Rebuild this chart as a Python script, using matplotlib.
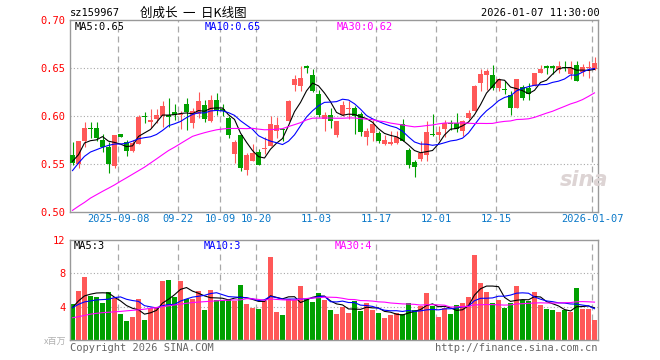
import matplotlib
matplotlib.use('Agg')
import matplotlib.pyplot as plt
import numpy as np
import pandas as pd

plt.rcParams['font.family'] = ['DejaVu Sans Mono', 'Noto Sans CJK SC']
plt.rcParams['lines.scale_dashes'] = False

# daily candles, 2025-08-27 .. 2026-01-07
opens = [0.559, 0.550, 0.574, 0.5872, 0.587, 0.575, 0.568, 0.5476, 0.581, 0.573,
         0.564, 0.571, 0.5992, 0.594, 0.597, 0.600, 0.601, 0.604, 0.601, 0.6125,
         0.593, 0.602, 0.611, 0.595, 0.617, 0.607, 0.598, 0.560, 0.5806, 0.544,
         0.5535, 0.5625, 0.5655, 0.5684, 0.5847, 0.5862, 0.5944, 0.6326, 0.631, 0.6509,
         0.6424, 0.6229, 0.597, 0.6014, 0.5806, 0.6007, 0.6073, 0.6083, 0.602, 0.5778,
         0.5823, 0.5823, 0.5708, 0.5708, 0.5719, 0.5917, 0.5649, 0.5521, 0.5556, 0.559,
         0.5808, 0.5806, 0.5868, 0.5927, 0.5927, 0.5847, 0.5979, 0.6056, 0.6344, 0.6431,
         0.6431, 0.6292, 0.6276, 0.6222, 0.6083, 0.6299, 0.6292, 0.6309, 0.6448, 0.6509,
         0.6509, 0.6483, 0.6502, 0.6438, 0.6528, 0.6458, 0.6497, 0.6493]
highs = [0.573, 0.574, 0.594, 0.594, 0.594, 0.581, 0.573, 0.5806, 0.581, 0.575,
         0.575, 0.601, 0.604, 0.607, 0.607, 0.616, 0.619, 0.6125, 0.605, 0.619,
         0.608, 0.625, 0.617, 0.622, 0.624, 0.6125, 0.5997, 0.5753, 0.5806, 0.5615,
         0.571, 0.566, 0.578, 0.5997, 0.5986, 0.587, 0.617, 0.6424, 0.6517, 0.6535,
         0.649, 0.6274, 0.604, 0.608, 0.5951, 0.6153, 0.6153, 0.610, 0.604, 0.588,
         0.596, 0.5847, 0.5806, 0.584, 0.5847, 0.5972, 0.5667, 0.5545, 0.5743, 0.5944,
         0.602, 0.5892, 0.596, 0.596, 0.6031, 0.596, 0.6066, 0.632, 0.6493, 0.6493,
         0.6535, 0.6396, 0.636, 0.6264, 0.6389, 0.632, 0.6344, 0.6448, 0.6535, 0.6528,
         0.6528, 0.6576, 0.6576, 0.657, 0.657, 0.6542, 0.657, 0.6611]
lows = [0.549, 0.546, 0.568, 0.577, 0.574, 0.563, 0.541, 0.546, 0.578, 0.558,
        0.562, 0.571, 0.593, 0.587, 0.593, 0.589, 0.589, 0.596, 0.586, 0.585,
        0.588, 0.598, 0.594, 0.594, 0.601, 0.600, 0.577, 0.551, 0.5424, 0.539,
        0.553, 0.549, 0.560, 0.5684, 0.577, 0.574, 0.5944, 0.6257, 0.6264, 0.6448,
        0.625, 0.5986, 0.5847, 0.588, 0.5778, 0.600, 0.5972, 0.5813, 0.5788, 0.5694,
        0.5743, 0.5719, 0.5694, 0.5694, 0.5708, 0.5736, 0.5458, 0.5361, 0.5535, 0.5528,
        0.5788, 0.5753, 0.5778, 0.5858, 0.5833, 0.5788, 0.5972, 0.6049, 0.6264, 0.6274,
        0.6274, 0.626, 0.6229, 0.6014, 0.608, 0.617, 0.617, 0.6309, 0.6448, 0.6438,
        0.6438, 0.6448, 0.6465, 0.6389, 0.636, 0.6413, 0.6396, 0.6483]
closes = [0.551, 0.574, 0.587, 0.5868, 0.577, 0.568, 0.550, 0.5806, 0.578, 0.564,
          0.572, 0.599, 0.5988, 0.596, 0.601, 0.610, 0.599, 0.601, 0.602, 0.604,
          0.6055, 0.616, 0.597, 0.617, 0.6066, 0.605, 0.5806, 0.573, 0.5458, 0.559,
          0.5615, 0.549, 0.5659, 0.5917, 0.5903, 0.5858, 0.616, 0.639, 0.6396, 0.6505,
          0.6264, 0.6014, 0.6014, 0.5944, 0.5951, 0.6111, 0.6077, 0.5997, 0.5833, 0.5847,
          0.5917, 0.5743, 0.5753, 0.5729, 0.5778, 0.5743, 0.5486, 0.5465, 0.5615, 0.5833,
          0.5804, 0.5833, 0.5927, 0.5917, 0.5868, 0.5944, 0.6031, 0.6309, 0.6438, 0.6472,
          0.6292, 0.6389, 0.6272, 0.6083, 0.6389, 0.6188, 0.6229, 0.6448, 0.6493, 0.6505,
          0.6505, 0.6517, 0.6498, 0.65, 0.6368, 0.6507, 0.6501, 0.6552]
# volume in millions
volumes = [4.28, 5.90, 7.60, 5.29, 5.13, 4.40, 5.78, 5.09, 3.07, 2.34,
           2.75, 4.89, 2.46, 3.88, 3.80, 7.11, 7.19, 5.17, 7.11, 4.89,
           4.97, 5.90, 3.60, 6.02, 4.77, 4.77, 4.89, 4.69, 6.63, 4.32,
           3.84, 3.68, 4.69, 10.02, 3.35, 2.95, 4.89, 4.77, 6.50, 4.89,
           4.57, 5.62, 4.77, 3.60, 3.11, 3.96, 3.19, 4.69, 3.43, 4.40,
           3.56, 3.19, 2.59, 2.95, 3.19, 3.07, 4.40, 3.56, 4.04, 5.62,
           4.04, 2.71, 3.80, 3.07, 4.16, 4.40, 5.13, 10.22, 6.83, 5.78,
           4.40, 4.77, 3.80, 4.40, 6.46, 4.81, 4.65, 5.74, 4.16, 3.68,
           3.56, 3.31, 3.56, 3.31, 6.22, 3.68, 3.68, 2.38]

# moving averages of the first bars reach back before the window
ma5_head = [0.5528, 0.5597, 0.5719, 0.5743]
ma10_head = [0.5431, 0.551, 0.558, 0.5625, 0.5649, 0.5674, 0.5694, 0.5708, 0.5708]
ma30_head = [0.5017, 0.506, 0.510, 0.5145, 0.518, 0.5215, 0.5248, 0.5282, 0.532, 0.5356,
             0.5393, 0.543, 0.5467, 0.551, 0.5553, 0.5597, 0.564, 0.5675, 0.5713, 0.5751,
             0.5788, 0.5808, 0.5826, 0.5842, 0.5856, 0.5865, 0.587, 0.587, 0.587]
vol_ma5_head = [3.88, 4.69, 5.29, 5.5]
vol_ma10_head = [3.88, 4.28, 4.57, 4.69, 4.81, 4.85, 4.89, 5.09, 5.17]
vol_ma30_head = [2.67, 2.8, 2.95, 3.1, 3.2, 3.28, 3.33, 3.38, 3.43, 3.5,
                 3.56, 3.62, 3.7, 3.8, 3.9, 4.0, 4.1, 4.2, 4.3, 4.4,
                 4.5, 4.55, 4.6, 4.65, 4.7, 4.75, 4.78, 4.8, 4.82]

date_ticks = [8, 18, 25, 31, 41, 51, 61, 71, 87]
date_labels = ['2025-09-08', '09-22', '10-09', '10-20', '11-03', '11-17',
               '12-01', '12-15', '2026-01-07']

RED = '#ff5858'
GREEN = '#00a000'
GRID = '#a8a8a8'
W, H = 660, 360


def moving_avg(values, n, head):
    s = pd.Series(values).rolling(n).mean()
    s.iloc[:len(head)] = head
    return s.values


def px(x, y):
    return x / W, 1 - y / H


o = np.array(opens)
c = np.array(closes)
x = np.arange(len(closes))
colors = np.where(c >= o, RED, GREEN)

fig = plt.figure(figsize=(6.6, 3.6), dpi=100)
left, right = 69.5 / W, 598 / W
ax = fig.add_axes([left, 1 - 212 / H, right - left, 192 / H])
axv = fig.add_axes([left, 1 - 340 / H, right - left, 100 / H])

for a in (ax, axv):
    a.set_xlim(-0.5, 87.58)
    for s in a.spines.values():
        s.set_color('#999999')
        s.set_linewidth(1.0)
    a.tick_params(length=0, colors='red', labelsize=7.5, pad=3)
    a.set_xticks([])
    for t in date_ticks:
        a.axvline(t - 2.5 / 6, color=GRID, lw=0.9, ls=(0, (4.3, 2.9)), zorder=0)

# price panel
ax.set_ylim(0.50, 0.70)
ax.set_yticks([0.50, 0.55, 0.60, 0.65, 0.70])
ax.set_yticklabels(['0.50', '0.55', '0.60', '0.65', '0.70'])
for v in [0.55, 0.60, 0.65]:
    ax.axhline(v, color=GRID, lw=0.8, ls=(0, (0.8, 1.6)), zorder=0)

ax.vlines(x, lows, highs, colors=colors, lw=0.8, zorder=2)
body = np.maximum(np.abs(c - o), 0.0011)
ax.bar(x, body, bottom=np.minimum(o, c), width=5 / 6, color=colors, lw=0, zorder=3)

ma5 = moving_avg(closes, 5, ma5_head)
ma10 = moving_avg(closes, 10, ma10_head)
ma30 = moving_avg(closes, 30, ma30_head)
ax.plot(x, ma5, color='black', lw=0.8, zorder=4)
ax.plot(x, ma10, color='#0000ff', lw=0.8, zorder=4)
ax.plot(x, ma30, color='#ff00ff', lw=0.8, zorder=4)

for t, lab in zip(date_ticks, date_labels):
    ax.text(t - 2.5 / 6, -0.035, lab, transform=ax.get_xaxis_transform(),
            ha='center', va='center', color='#0a78c8', fontsize=7.5)

ax.text(*px(584, 180), 'sina', transform=fig.transFigure, ha='center', va='center',
        fontsize=15, fontweight='bold', style='italic', color='#ddd4d4', family='DejaVu Sans')

# volume panel
axv.set_ylim(0, 12)
axv.set_yticks([4, 8, 12])
axv.set_yticklabels(['4', '8', '12'])
for v in [4, 8]:
    axv.axhline(v, color=GRID, lw=0.8, ls=(0, (0.8, 1.6)), zorder=0)
axv.bar(x, volumes, width=5 / 6, color=colors, lw=0, zorder=2)
vma5 = moving_avg(volumes, 5, vol_ma5_head)
vma10 = moving_avg(volumes, 10, vol_ma10_head)
vma30 = moving_avg(volumes, 30, vol_ma30_head)
axv.plot(x, vma5, color='black', lw=0.8, zorder=4)
axv.plot(x, vma10, color='#0000ff', lw=0.8, zorder=4)
axv.plot(x, vma30, color='#ff00ff', lw=0.8, zorder=4)

# header and labels
fig.text(*px(70, 13), 'sz159967', ha='left', va='center', fontsize=7.5)
fig.text(*px(193, 13), '创成长  一  日K线图', ha='center', va='center', fontsize=9,
         family=['Noto Sans CJK SC', 'DejaVu Sans'])
fig.text(*px(600, 13), '2026-01-07 11:30:00', ha='right', va='center', fontsize=7.5)

fig.text(*px(75, 27), f'MA5:{ma5[-1]:.2f}', ha='left', va='center', fontsize=7.5, color='black')
fig.text(*px(205, 27), f'MA10:{ma10[-1]:.2f}', ha='left', va='center', fontsize=7.5, color='#0000ff')
fig.text(*px(337, 27), f'MA30:{ma30[-1]:.2f}', ha='left', va='center', fontsize=7.5, color='#ff00ff')

fig.text(*px(74, 246), f'MA5:{int(vma5[-1])}', ha='left', va='center', fontsize=7.5, color='black')
fig.text(*px(204, 246), f'MA10:{int(vma10[-1])}', ha='left', va='center', fontsize=7.5, color='#0000ff')
fig.text(*px(335, 246), f'MA30:{int(vma30[-1])}', ha='left', va='center', fontsize=7.5, color='#ff00ff')

fig.text(*px(66, 341), 'x百万', ha='right', va='center', fontsize=6.5, color='#b0b0b0',
         family=['Noto Sans CJK SC', 'DejaVu Sans'])
fig.text(*px(70, 348), 'Copyright 2026 SINA.COM', ha='left', va='center', fontsize=7.5, color='#666666')
fig.text(*px(598, 348), 'http://finance.sina.com.cn', ha='right', va='center', fontsize=7.5, color='#666666')

fig.savefig('out.png', dpi=100, facecolor='white')
